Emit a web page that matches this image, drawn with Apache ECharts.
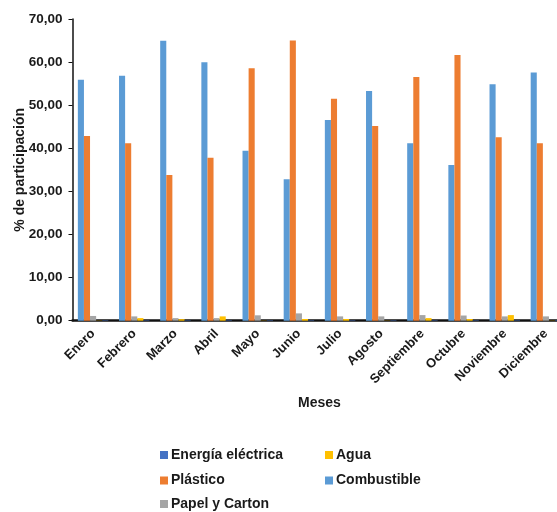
<!DOCTYPE html>
<html>
<head>
<meta charset="utf-8">
<script src="https://cdn.jsdelivr.net/npm/echarts@6/dist/echarts.min.js"></script>
<style>
  html, body { margin: 0; padding: 0; background: #fff; }
  #chart { width: 557px; height: 512px; }
</style>
</head>
<body>
<div id="chart"></div>
<script>
// Monthly share (%) of each waste/consumption category
const meses = ['Enero', 'Febrero', 'Marzo', 'Abril', 'Mayo', 'Junio', 'Julio', 'Agosto', 'Septiembre', 'Octubre', 'Noviembre', 'Diciembre'];
const combustible = [55.9, 56.85, 64.95, 59.95, 39.45, 32.8, 46.55, 53.3, 41.15, 36.1, 54.85, 57.6];
const plastico    = [42.85, 41.15, 33.8, 37.8, 58.6, 65.0, 51.5, 45.2, 56.55, 61.65, 42.55, 41.15];
const papelCarton = [1.1, 1.0, 0.6, 0.6, 1.25, 1.7, 1.0, 1.0, 1.3, 1.2, 1.0, 1.0];
const agua        = [0.05, 0.6, 0.35, 1.0, 0.05, 0.4, 0.4, 0.05, 0.6, 0.4, 1.3, 0.05];
const energia     = [0.1, 0.1, 0.1, 0.1, 0.1, 0.1, 0.1, 0.1, 0.1, 0.1, 0.1, 0.1];
const yTicks = { min: 0, max: 70, step: 10 };

const FONT = 'Liberation Sans, Arial, sans-serif';
const TXT = '#1a1a1a';

const chart = echarts.init(document.getElementById('chart'), null, { renderer: 'canvas' });

const barBase = { type: 'bar', barGap: '0%', barCategoryGap: '26%' };

// One legend block per entry, laid out in two columns
const legendSlots = [
  { name: 'Energía eléctrica', left: 160, top: 448 },
  { name: 'Plástico',          left: 160, top: 473.5 },
  { name: 'Papel y Carton',    left: 160, top: 497 },
  { name: 'Agua',              left: 325, top: 448 },
  { name: 'Combustible',       left: 325, top: 473.5 }
];
const legends = legendSlots.map(s => ({
  left: s.left, top: s.top, padding: 0,
  itemWidth: 8, itemHeight: 8, icon: 'rect',
  textStyle: { fontFamily: FONT, fontWeight: 'bold', fontSize: 14, color: TXT, padding: [0, 0, 0, -2] },
  data: [s.name]
}));

chart.setOption({
  animation: false,
  grid: {
    left: 72.5, top: 19, width: 494, height: 301.7,
    containLabel: false, outerBoundsMode: 'none'
  },
  legend: legends,
  xAxis: {
    type: 'category',
    data: meses,
    name: 'Meses',
    nameLocation: 'middle',
    nameGap: 75,
    nameMoveOverlap: false,
    nameTextStyle: { fontFamily: FONT, fontWeight: 'bold', fontSize: 14, color: TXT },
    axisLine: { lineStyle: { color: '#111', width: 2.5 } },
    axisTick: { show: false },
    axisLabel: {
      rotate: 45, interval: 0, margin: 11,
      fontFamily: FONT, fontWeight: 'bold', fontSize: 13, color: TXT
    }
  },
  yAxis: {
    type: 'value',
    min: yTicks.min, max: yTicks.max, interval: yTicks.step,
    name: '% de participación',
    nameLocation: 'middle',
    nameGap: 45.5,
    nameMoveOverlap: false,
    nameTextStyle: { fontFamily: FONT, fontWeight: 'bold', fontSize: 14, color: TXT },
    axisLine: { show: true, lineStyle: { color: '#111', width: 1.5 } },
    axisTick: { show: true, length: 4, lineStyle: { color: '#111', width: 1 } },
    splitLine: { show: false },
    axisLabel: {
      margin: 10,
      fontFamily: FONT, fontWeight: 'bold', fontSize: 13.5, color: TXT,
      formatter: v => v.toFixed(2).replace('.', ',')
    }
  },
  series: [
    Object.assign({ name: 'Combustible', data: combustible, itemStyle: { color: '#5B9BD5' } }, barBase),
    Object.assign({ name: 'Plástico', data: plastico, itemStyle: { color: '#ED7D31' } }, barBase),
    Object.assign({ name: 'Papel y Carton', data: papelCarton, itemStyle: { color: '#A5A5A5' } }, barBase),
    Object.assign({ name: 'Agua', data: agua, itemStyle: { color: '#FFC000' } }, barBase),
    Object.assign({ name: 'Energía eléctrica', data: energia, itemStyle: { color: '#4472C4' } }, barBase)
  ]
});
</script>
</body>
</html>
